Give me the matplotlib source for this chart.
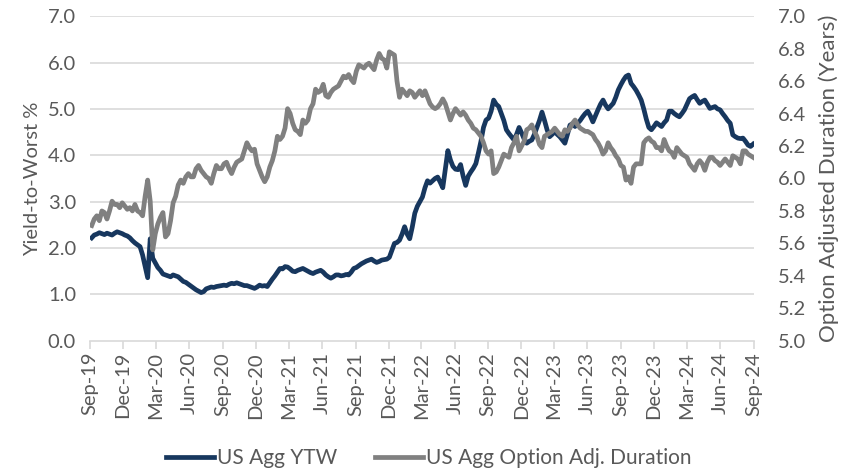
import numpy as np
import pandas as pd
import matplotlib
matplotlib.use("Agg")
import matplotlib.pyplot as plt
import matplotlib.dates as mdates

# weekly observations, Sep-2019 .. Aug-2024 (one row ~ one quarter)
dates = pd.date_range("2019-09-06", periods=261, freq="7D")

ytw = [
    2.22, 2.28, 2.30, 2.33, 2.31, 2.29, 2.32, 2.30, 2.28, 2.32, 2.35, 2.33, 2.31,
    2.28, 2.26, 2.22, 2.16, 2.11, 2.07, 2.03, 1.85, 1.60, 1.36, 2.20, 1.78, 1.68,
    1.58, 1.52, 1.44, 1.42, 1.40, 1.38, 1.42, 1.40, 1.38, 1.33, 1.28, 1.26, 1.22,
    1.18, 1.14, 1.10, 1.07, 1.04, 1.06, 1.12, 1.14, 1.16, 1.15, 1.17, 1.18, 1.19,
    1.20, 1.19, 1.22, 1.24, 1.23, 1.25, 1.23, 1.21, 1.19, 1.19, 1.17, 1.15, 1.13,
    1.16, 1.20, 1.18, 1.19, 1.17, 1.25, 1.33, 1.40, 1.48, 1.56, 1.55, 1.60, 1.59,
    1.55, 1.50, 1.49, 1.52, 1.54, 1.56, 1.53, 1.50, 1.47, 1.45, 1.48, 1.50, 1.52,
    1.48, 1.42, 1.38, 1.35, 1.38, 1.42, 1.42, 1.40, 1.41, 1.43, 1.42, 1.48, 1.56,
    1.58, 1.62, 1.66, 1.69, 1.72, 1.74, 1.76, 1.72, 1.69, 1.71, 1.74, 1.75, 1.76,
    1.80, 1.95, 2.10, 2.12, 2.17, 2.30, 2.46, 2.30, 2.20, 2.45, 2.75, 2.90, 3.00,
    3.10, 3.30, 3.45, 3.40, 3.45, 3.50, 3.53, 3.42, 3.30, 3.70, 4.10, 3.90, 3.76,
    3.70, 3.69, 3.80, 3.55, 3.35, 3.55, 3.64, 3.72, 3.82, 4.05, 4.30, 4.60, 4.76,
    4.80, 4.95, 5.19, 5.10, 5.05, 4.90, 4.75, 4.55, 4.47, 4.40, 4.33, 4.45, 4.60,
    4.48, 4.35, 4.26, 4.30, 4.33, 4.45, 4.60, 4.75, 4.93, 4.75, 4.55, 4.40, 4.45,
    4.51, 4.45, 4.40, 4.33, 4.26, 4.45, 4.65, 4.68, 4.62, 4.69, 4.75, 4.83, 4.90,
    4.95, 4.85, 4.72, 4.85, 4.98, 5.10, 5.19, 5.08, 5.00, 5.06, 5.12, 5.25, 5.41,
    5.52, 5.62, 5.70, 5.73, 5.55, 5.48, 5.40, 5.30, 5.19, 5.00, 4.78, 4.60, 4.55,
    4.62, 4.70, 4.66, 4.62, 4.70, 4.76, 4.95, 4.95, 4.90, 4.86, 4.83, 4.90, 4.98,
    5.10, 5.22, 5.26, 5.29, 5.20, 5.12, 5.16, 5.19, 5.10, 5.01, 5.03, 5.05, 5.00,
    4.98, 4.90, 4.83, 4.75, 4.69, 4.44, 4.40, 4.37, 4.36, 4.37, 4.30, 4.22, 4.19,
    4.24,
]

duration = [
    5.71, 5.75, 5.77, 5.74, 5.80, 5.79, 5.75, 5.80, 5.86, 5.84, 5.84, 5.82, 5.85,
    5.83, 5.81, 5.82, 5.80, 5.84, 5.80, 5.79, 5.77, 5.89, 5.99, 5.86, 5.56, 5.66,
    5.72, 5.76, 5.79, 5.64, 5.66, 5.74, 5.85, 5.89, 5.96, 5.99, 5.97, 6.01, 6.03,
    6.01, 6.01, 6.06, 6.08, 6.05, 6.03, 6.01, 6.00, 5.97, 6.03, 6.08, 6.06, 6.06,
    6.09, 6.10, 6.06, 6.03, 6.07, 6.10, 6.11, 6.12, 6.17, 6.22, 6.19, 6.17, 6.18,
    6.09, 6.05, 6.01, 5.98, 6.01, 6.07, 6.11, 6.17, 6.26, 6.24, 6.26, 6.31, 6.43,
    6.40, 6.34, 6.30, 6.29, 6.27, 6.36, 6.34, 6.36, 6.43, 6.46, 6.55, 6.53, 6.54,
    6.58, 6.51, 6.50, 6.53, 6.55, 6.56, 6.57, 6.60, 6.63, 6.62, 6.64, 6.61, 6.59,
    6.66, 6.70, 6.69, 6.68, 6.70, 6.71, 6.69, 6.67, 6.73, 6.77, 6.74, 6.73, 6.68,
    6.78, 6.77, 6.76, 6.60, 6.50, 6.55, 6.53, 6.51, 6.54, 6.53, 6.50, 6.52, 6.54,
    6.51, 6.54, 6.50, 6.46, 6.44, 6.43, 6.44, 6.46, 6.49, 6.46, 6.41, 6.36, 6.40,
    6.43, 6.41, 6.39, 6.41, 6.39, 6.36, 6.34, 6.31, 6.30, 6.28, 6.26, 6.22, 6.17,
    6.15, 6.17, 6.03, 6.04, 6.07, 6.11, 6.15, 6.14, 6.13, 6.19, 6.22, 6.26, 6.17,
    6.20, 6.23, 6.30, 6.31, 6.33, 6.29, 6.26, 6.21, 6.19, 6.26, 6.27, 6.28, 6.29,
    6.31, 6.29, 6.27, 6.26, 6.30, 6.29, 6.31, 6.34, 6.36, 6.33, 6.31, 6.30, 6.29,
    6.29, 6.28, 6.27, 6.24, 6.22, 6.19, 6.15, 6.17, 6.22, 6.19, 6.17, 6.14, 6.12,
    6.08, 6.07, 5.99, 6.01, 5.97, 6.07, 6.09, 6.09, 6.09, 6.22, 6.24, 6.25, 6.23,
    6.22, 6.19, 6.19, 6.17, 6.24, 6.20, 6.17, 6.16, 6.13, 6.19, 6.17, 6.15, 6.14,
    6.13, 6.09, 6.07, 6.05, 6.09, 6.11, 6.09, 6.05, 6.10, 6.13, 6.13, 6.11, 6.10,
    6.08, 6.10, 6.12, 6.10, 6.08, 6.14, 6.13, 6.12, 6.09, 6.17, 6.17, 6.15, 6.14,
    6.13,
]

navy = "#17375e"
grey = "#808080"
txt = "#595959"
light = "#d9d9d9"

plt.rcParams["font.family"] = ["Lato", "DejaVu Sans"]

fig = plt.figure(figsize=(8.48, 4.74), dpi=100)
ax = fig.add_axes([0.106, 0.281, 0.783, 0.685])
ax2 = ax.twinx()

ax.plot(dates, ytw, color=navy, lw=3.4, label="US Agg YTW", solid_joinstyle="round")
ax2.plot(dates, duration, color=grey, lw=3.4, label="US Agg Option Adj. Duration",
         solid_joinstyle="round")

ax.set_ylim(0, 7)
ax.set_yticks(np.arange(0, 7.01, 1.0))
ax.set_yticklabels([f"{v:.1f}" for v in np.arange(0, 7.01, 1.0)])
ax2.set_ylim(5, 7)
ax2.set_yticks(np.arange(5, 7.001, 0.2))
ax2.set_yticklabels([f"{v:.1f}" for v in np.arange(5, 7.001, 0.2)])

ax.set_xlim(pd.Timestamp("2019-09-01"), pd.Timestamp("2024-09-01"))
ax.xaxis.set_major_locator(mdates.MonthLocator(bymonth=[3, 6, 9, 12]))
ax.xaxis.set_major_formatter(mdates.DateFormatter("%b-%y"))

for a in (ax, ax2):
    for s in a.spines.values():
        s.set_visible(False)
ax.spines["bottom"].set_visible(True)
ax.spines["bottom"].set_color(light)
ax.spines["bottom"].set_linewidth(1.2)

ax.grid(axis="y", color=light, lw=1.2)
ax.set_axisbelow(True)
# no gridline at 0, the axis line sits there
ax.yaxis.get_gridlines()[0].set_visible(False)

ax.tick_params(axis="y", length=0, labelsize=14.5, labelcolor=txt, pad=10)
ax2.tick_params(axis="y", length=0, labelsize=14.5, labelcolor=txt, pad=17)
ax.tick_params(axis="x", length=6, color=light, width=1.2, labelsize=14.5,
               labelcolor=txt, labelrotation=90, pad=2)

ax.set_ylabel("Yield-to-Worst %", fontsize=14.5, color=txt, labelpad=5)
ax2.set_ylabel("Option Adjusted Duration (Years)", fontsize=16, color=txt, labelpad=9)

h1, l1 = ax.get_legend_handles_labels()
h2, l2 = ax2.get_legend_handles_labels()
fig.legend(h1 + h2, l1 + l2, loc="center", bbox_to_anchor=(0.506, 0.034), ncol=2,
           frameon=False, fontsize=15, labelcolor=txt, handlelength=2.3,
           columnspacing=1.8, handletextpad=0.15, borderpad=0)

fig.savefig("out.png", dpi=100)
